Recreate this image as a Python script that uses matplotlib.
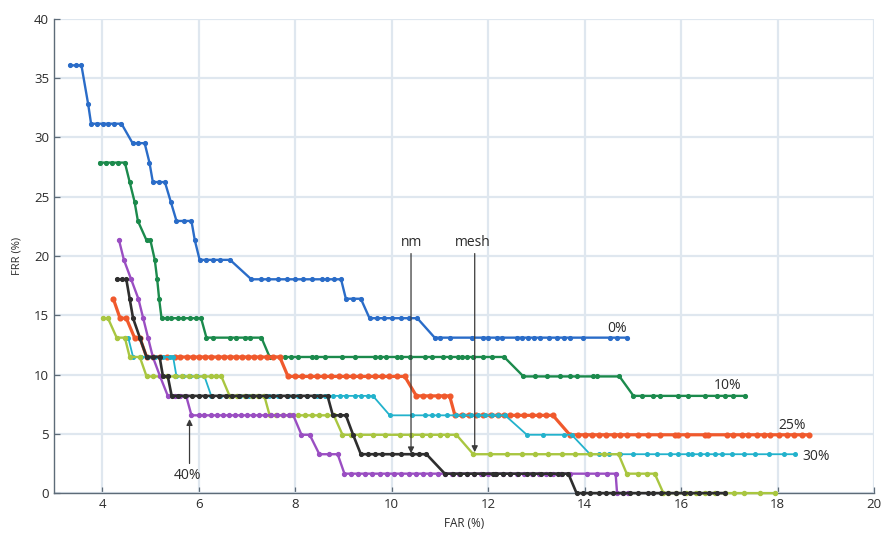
# FRR vs FAR curves for the different occlusion levels
# (0% .. 40%) plus the nm and mesh variants

import matplotlib
matplotlib.use('Agg')
import matplotlib.pyplot as plt

# ## Data (FAR %, FRR %) ## #

pts_0 = [(3.33, 36.07), (3.45, 36.07), (3.57, 36.07), (3.71, 32.79),
         (3.77, 31.15), (3.90, 31.15), (4.02, 31.15), (4.12, 31.15),
         (4.25, 31.15), (4.40, 31.15), (4.63, 29.51), (4.75, 29.51),
         (4.88, 29.51), (4.98, 27.87), (5.05, 26.23), (5.18, 26.23),
         (5.30, 26.23), (5.42, 24.59), (5.54, 22.95), (5.70, 22.95),
         (5.85, 22.95), (5.92, 21.31), (6.02, 19.67), (6.15, 19.67),
         (6.30, 19.67), (6.45, 19.67), (6.65, 19.67), (7.09, 18.03),
         (7.30, 18.03), (7.44, 18.03), (7.65, 18.03), (7.82, 18.03),
         (8.00, 18.03), (8.17, 18.03), (8.34, 18.03), (8.55, 18.03),
         (8.66, 18.03), (8.80, 18.03), (8.95, 18.03), (9.05, 16.39),
         (9.20, 16.39), (9.36, 16.39), (9.54, 14.75), (9.70, 14.75),
         (9.85, 14.75), (10.00, 14.75), (10.20, 14.75), (10.35, 14.75),
         (10.53, 14.75), (10.89, 13.11), (11.00, 13.11), (11.20, 13.11),
         (11.67, 13.11), (11.90, 13.11), (12.00, 13.11), (12.18, 13.11),
         (12.28, 13.11), (12.60, 13.11), (12.70, 13.11), (12.83, 13.11),
         (12.94, 13.11), (13.07, 13.11), (13.25, 13.11), (13.42, 13.11),
         (13.56, 13.11), (13.70, 13.11), (13.97, 13.11), (14.52, 13.11),
         (14.66, 13.11), (14.87, 13.11)]

pts_10 = [(3.95, 27.87), (4.08, 27.87), (4.20, 27.87), (4.33, 27.87),
          (4.47, 27.87), (4.57, 26.23), (4.67, 24.59), (4.74, 22.95),
          (4.92, 21.31), (5.00, 21.31), (5.09, 19.67), (5.14, 18.03),
          (5.18, 16.39), (5.23, 14.75), (5.35, 14.75), (5.43, 14.75),
          (5.57, 14.75), (5.67, 14.75), (5.81, 14.75), (5.95, 14.75),
          (6.05, 14.75), (6.16, 13.11), (6.29, 13.11), (6.64, 13.11),
          (6.78, 13.11), (6.95, 13.11), (7.06, 13.11), (7.30, 13.11),
          (7.47, 11.48), (7.78, 11.48), (7.92, 11.48), (8.06, 11.48),
          (8.34, 11.48), (8.44, 11.48), (8.61, 11.48), (8.96, 11.48),
          (9.23, 11.48), (9.65, 11.48), (9.75, 11.48), (9.89, 11.48),
          (10.10, 11.48), (10.20, 11.48), (10.38, 11.48), (10.69, 11.48),
          (10.83, 11.48), (11.07, 11.48), (11.21, 11.48), (11.38, 11.48),
          (11.45, 11.48), (11.56, 11.48), (11.69, 11.48), (11.90, 11.48),
          (12.07, 11.48), (12.33, 11.48), (12.73, 9.84), (12.97, 9.84),
          (13.21, 9.84), (13.49, 9.84), (13.70, 9.84), (13.83, 9.84),
          (14.18, 9.84), (14.25, 9.84), (14.72, 9.84), (15.01, 8.20),
          (15.18, 8.20), (15.42, 8.20), (15.56, 8.20), (15.94, 8.20),
          (16.15, 8.20), (16.50, 8.20), (16.74, 8.20), (16.91, 8.20),
          (17.08, 8.20), (17.33, 8.20)]

pts_25 = [(4.23, 16.39), (4.37, 14.75), (4.50, 14.75), (4.67, 13.11),
          (4.78, 13.11), (4.92, 11.48), (5.05, 11.48), (5.20, 11.48),
          (5.35, 11.48), (5.50, 11.48), (5.62, 11.48), (5.75, 11.48),
          (5.88, 11.48), (6.00, 11.48), (6.13, 11.48), (6.26, 11.48),
          (6.40, 11.48), (6.52, 11.48), (6.65, 11.48), (6.78, 11.48),
          (6.90, 11.48), (7.03, 11.48), (7.15, 11.48), (7.28, 11.48),
          (7.42, 11.48), (7.55, 11.48), (7.68, 11.48), (7.85, 9.84),
          (8.00, 9.84), (8.15, 9.84), (8.30, 9.84), (8.45, 9.84),
          (8.60, 9.84), (8.75, 9.84), (8.90, 9.84), (9.05, 9.84),
          (9.20, 9.84), (9.35, 9.84), (9.50, 9.84), (9.65, 9.84),
          (9.80, 9.84), (9.95, 9.84), (10.10, 9.84), (10.27, 9.84),
          (10.51, 8.20), (10.65, 8.20), (10.80, 8.20), (10.95, 8.20),
          (11.08, 8.20), (11.20, 8.20), (11.31, 6.56), (11.45, 6.56),
          (11.60, 6.56), (11.75, 6.56), (11.90, 6.56), (12.05, 6.56),
          (12.20, 6.56), (12.33, 6.56), (12.45, 6.56), (12.60, 6.56),
          (12.75, 6.56), (12.90, 6.56), (13.05, 6.56), (13.20, 6.56),
          (13.34, 6.56), (13.69, 4.92), (13.85, 4.92), (14.00, 4.92),
          (14.15, 4.92), (14.30, 4.92), (14.45, 4.92), (14.60, 4.92),
          (14.73, 4.92), (14.87, 4.92), (15.11, 4.92), (15.32, 4.92),
          (15.56, 4.92), (15.87, 4.92), (15.94, 4.92), (16.12, 4.92),
          (16.50, 4.92), (16.56, 4.92), (16.95, 4.92), (17.08, 4.92),
          (17.26, 4.92), (17.39, 4.92), (17.57, 4.92), (17.71, 4.92),
          (17.84, 4.92), (18.02, 4.92), (18.19, 4.92), (18.33, 4.92),
          (18.50, 4.92), (18.64, 4.92)]

pts_30 = [(4.54, 13.11), (4.64, 11.48), (4.80, 11.48), (4.95, 11.48),
          (5.10, 11.48), (5.25, 11.48), (5.40, 11.48), (5.47, 11.48),
          (5.54, 9.84), (5.68, 9.84), (5.82, 9.84), (5.96, 9.84),
          (6.12, 9.84), (6.26, 8.20), (6.45, 8.20), (6.65, 8.20),
          (6.85, 8.20), (7.05, 8.20), (7.25, 8.20), (7.45, 8.20),
          (7.65, 8.20), (7.85, 8.20), (8.05, 8.20), (8.25, 8.20),
          (8.45, 8.20), (8.62, 8.20), (8.78, 8.20), (8.92, 8.20),
          (9.06, 8.20), (9.23, 8.20), (9.37, 8.20), (9.50, 8.20),
          (9.61, 8.20), (9.96, 6.56), (10.41, 6.56), (10.69, 6.56),
          (10.83, 6.56), (10.96, 6.56), (11.14, 6.56), (11.34, 6.56),
          (11.48, 6.56), (11.65, 6.56), (11.79, 6.56), (11.93, 6.56),
          (12.07, 6.56), (12.20, 6.56), (12.35, 6.56), (12.80, 4.92),
          (13.14, 4.92), (13.56, 4.92), (13.73, 4.92), (14.11, 3.28),
          (14.30, 3.28), (14.50, 3.28), (14.73, 3.28), (15.01, 3.28),
          (15.29, 3.28), (15.49, 3.28), (15.77, 3.28), (15.94, 3.28),
          (16.15, 3.28), (16.22, 3.28), (16.39, 3.28), (16.53, 3.28),
          (16.70, 3.28), (16.84, 3.28), (17.05, 3.28), (17.29, 3.28),
          (17.53, 3.28), (17.81, 3.28), (18.12, 3.28), (18.36, 3.28)]

pts_mesh = [(4.02, 14.75), (4.12, 14.75), (4.30, 13.11), (4.47, 13.11),
            (4.57, 11.48), (4.78, 11.48), (4.92, 9.84), (5.05, 9.84),
            (5.20, 9.84), (5.35, 9.84), (5.50, 9.84), (5.65, 9.84),
            (5.80, 9.84), (5.95, 9.84), (6.10, 9.84), (6.25, 9.84),
            (6.35, 9.84), (6.47, 9.84), (6.64, 8.20), (6.80, 8.20),
            (6.95, 8.20), (7.10, 8.20), (7.22, 8.20), (7.36, 8.20),
            (7.47, 6.56), (7.60, 6.56), (7.75, 6.56), (7.90, 6.56),
            (8.05, 6.56), (8.20, 6.56), (8.35, 6.56), (8.50, 6.56),
            (8.65, 6.56), (8.80, 6.56), (8.98, 4.92), (9.15, 4.92),
            (9.34, 4.92), (9.61, 4.92), (9.86, 4.92), (10.17, 4.92),
            (10.40, 4.92), (10.62, 4.92), (10.79, 4.92), (11.00, 4.92),
            (11.14, 4.92), (11.34, 4.92), (11.69, 3.28), (12.03, 3.28),
            (12.38, 3.28), (12.69, 3.28), (12.97, 3.28), (13.24, 3.28),
            (13.52, 3.28), (13.80, 3.28), (14.11, 3.28), (14.39, 3.28),
            (14.70, 3.28), (14.87, 1.64), (15.10, 1.64), (15.30, 1.64),
            (15.45, 1.64), (15.63, 0.00), (15.73, 0.00), (15.90, 0.00),
            (16.10, 0.00), (16.30, 0.00), (16.50, 0.00), (16.70, 0.00),
            (16.90, 0.00), (17.10, 0.00), (17.29, 0.00), (17.64, 0.00),
            (17.95, 0.00)]

pts_40 = [(4.35, 21.31), (4.45, 19.67), (4.60, 18.03), (4.75, 16.39),
          (4.85, 14.75), (4.95, 13.11), (5.05, 11.48), (5.20, 9.84),
          (5.36, 8.20), (5.50, 8.20), (5.62, 8.20), (5.74, 8.20),
          (5.85, 6.56), (6.00, 6.56), (6.12, 6.56), (6.25, 6.56),
          (6.38, 6.56), (6.50, 6.56), (6.62, 6.56), (6.75, 6.56),
          (6.88, 6.56), (7.00, 6.56), (7.12, 6.56), (7.25, 6.56),
          (7.38, 6.56), (7.50, 6.56), (7.62, 6.56), (7.75, 6.56),
          (7.88, 6.56), (7.96, 6.56), (8.13, 4.92), (8.30, 4.92),
          (8.50, 3.28), (8.70, 3.28), (8.88, 3.28), (9.02, 1.64),
          (9.15, 1.64), (9.30, 1.64), (9.45, 1.64), (9.60, 1.64),
          (9.75, 1.64), (9.90, 1.64), (10.05, 1.64), (10.20, 1.64),
          (10.35, 1.64), (10.50, 1.64), (10.65, 1.64), (10.80, 1.64),
          (10.95, 1.64), (11.10, 1.64), (11.25, 1.64), (11.40, 1.64),
          (11.55, 1.64), (11.70, 1.64), (11.85, 1.64), (12.00, 1.64),
          (12.15, 1.64), (12.30, 1.64), (12.45, 1.64), (12.60, 1.64),
          (12.75, 1.64), (12.90, 1.64), (13.05, 1.64), (13.20, 1.64),
          (13.35, 1.64), (13.50, 1.64), (13.70, 1.64), (14.04, 1.64),
          (14.25, 1.64), (14.46, 1.64), (14.64, 1.64), (14.67, 0.00),
          (14.80, 0.00), (14.90, 0.00)]

pts_nm = [(4.30, 18.03), (4.42, 18.03), (4.50, 18.03), (4.57, 16.39),
          (4.64, 14.75), (4.78, 13.11), (4.92, 11.48), (5.05, 11.48),
          (5.19, 11.48), (5.26, 9.84), (5.36, 9.84), (5.44, 8.20),
          (5.58, 8.20), (5.72, 8.20), (5.86, 8.20), (6.00, 8.20),
          (6.14, 8.20), (6.28, 8.20), (6.42, 8.20), (6.56, 8.20),
          (6.70, 8.20), (6.84, 8.20), (6.98, 8.20), (7.12, 8.20),
          (7.26, 8.20), (7.40, 8.20), (7.54, 8.20), (7.68, 8.20),
          (7.82, 8.20), (7.96, 8.20), (8.10, 8.20), (8.24, 8.20),
          (8.38, 8.20), (8.52, 8.20), (8.67, 8.20), (8.78, 6.56),
          (8.92, 6.56), (9.05, 6.56), (9.20, 4.92), (9.36, 3.28),
          (9.50, 3.28), (9.65, 3.28), (9.79, 3.28), (10.00, 3.28),
          (10.20, 3.28), (10.41, 3.28), (10.57, 3.28), (10.72, 3.28),
          (11.10, 1.64), (11.27, 1.64), (11.41, 1.64), (11.55, 1.64),
          (11.70, 1.64), (11.90, 1.64), (12.10, 1.64), (12.17, 1.64),
          (12.31, 1.64), (12.45, 1.64), (12.62, 1.64), (12.80, 1.64),
          (12.93, 1.64), (13.10, 1.64), (13.28, 1.64), (13.45, 1.64),
          (13.52, 1.64), (13.66, 1.64), (13.83, 0.00), (13.97, 0.00),
          (14.11, 0.00), (14.30, 0.00), (14.45, 0.00), (14.59, 0.00),
          (14.80, 0.00), (14.94, 0.00), (15.10, 0.00), (15.32, 0.00),
          (15.42, 0.00), (15.58, 0.00), (15.73, 0.00), (15.90, 0.00),
          (16.05, 0.00), (16.19, 0.00), (16.36, 0.00), (16.57, 0.00),
          (16.74, 0.00), (16.91, 0.00)]

# name, points, colour, line width, marker size (drawing order)
series = [('0%', pts_0, '#2a6cc8', 1.7, 2.7),
          ('10%', pts_10, '#1b8a4c', 1.7, 2.7),
          ('25%', pts_25, '#f0592c', 2.3, 3.4),
          ('30%', pts_30, '#22b2cc', 1.3, 2.6),
          ('mesh', pts_mesh, '#a9c640', 1.7, 2.9),
          ('40%', pts_40, '#9a4ec2', 1.7, 2.8),
          ('nm', pts_nm, '#2e2e2e', 1.9, 2.7)]

# labels next to the curve ends: text, x, y
end_labels = [('0%', 14.67, 13.9), ('10%', 16.97, 9.1),
              ('25%', 18.30, 5.7), ('30%', 18.80, 3.1)]

# arrow labels: text, text x, text y, arrow x, arrow start y, arrow tip y
arrow_labels = [('nm', 10.41, 21.1, 10.40, 20.2, 3.35),
                ('mesh', 11.68, 21.1, 11.72, 20.2, 3.45),
                ('40%', 5.76, 1.5, 5.81, 2.5, 6.25)]

xTicks = [4, 6, 8, 10, 12, 14, 16, 18, 20]
yTicks = [0, 5, 10, 15, 20, 25, 30, 35, 40]

xlabel = 'FAR (%)'
ylabel = 'FRR (%)'

textColor = '#2b2b2b'
axisColor = '#5d6b78'
gridColor = '#dfe7ef'

plt.rcParams['font.family'] = ['Open Sans', 'DejaVu Sans']


def main():
    fig = plt.figure(figsize=(8.84, 5.36), dpi=100)
    ax = fig.add_axes([0.061, 0.080, 0.928, 0.885])

    for name, pts, col, lw, ms in series:
        xs = [p[0] for p in pts]
        ys = [p[1] for p in pts]
        ax.plot(xs, ys, '-o', color=col, lw=lw, ms=ms, mec=col,
                solid_joinstyle='miter', label=name, clip_on=False,
                zorder=3)

    for txt, x, y in end_labels:
        ax.text(x, y, txt, fontsize=10, color=textColor, ha='center',
                va='center', zorder=5)

    for txt, tx, ty, ax_x, y0, y1 in arrow_labels:
        ax.annotate('', xy=(ax_x, y1), xytext=(ax_x, y0),
                    arrowprops=dict(arrowstyle='-|>', color='#3a3a3a',
                                    lw=0.9, mutation_scale=9,
                                    shrinkA=0, shrinkB=0),
                    zorder=6)
        ax.text(tx, ty, txt, fontsize=10, color=textColor, ha='center',
                va='center', zorder=6)

    ax.set_xlim(3, 20)
    ax.set_ylim(0, 40)
    ax.set_xticks(xTicks)
    ax.set_yticks(yTicks)
    ax.grid(True, color=gridColor, lw=1.6, zorder=0)
    ax.set_axisbelow(True)

    for side in ['top', 'right']:
        ax.spines[side].set_visible(False)
    for side in ['left', 'bottom']:
        ax.spines[side].set_color(axisColor)
        ax.spines[side].set_linewidth(1.0)

    ax.tick_params(axis='both', direction='in', length=4, width=0.9,
                   color=axisColor, labelsize=9.5, labelcolor=textColor)
    ax.set_xlabel(xlabel, fontsize=8.5, color=textColor, labelpad=4)
    ax.set_ylabel(ylabel, fontsize=8, color=textColor, labelpad=8)

    fig.savefig('out.png', dpi=100, facecolor='w')


if __name__ == '__main__':
    main()
